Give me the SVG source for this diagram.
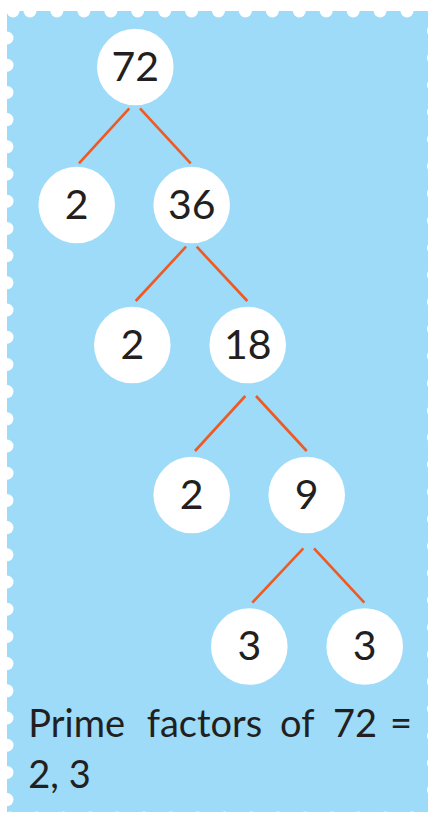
<svg xmlns="http://www.w3.org/2000/svg" width="428" height="813" viewBox="0 0 428 813">
<style>
.bg{fill:#9ddbf8}
.hole{fill:#ffffff}
.node circle{fill:#ffffff}
.node text{font-family:Lato,"Open Sans","Liberation Sans",sans-serif;font-size:41px;fill:#231f20;text-anchor:middle}
.edge{stroke:#ef5a23;stroke-width:2.6;fill:none}
.cap{font-family:Lato,"Open Sans","Liberation Sans",sans-serif;font-size:38px;fill:#231f20}
</style>
<defs>
<circle id="d" r="6.5" class="hole"/>
</defs>
<rect width="428" height="813" fill="#ffffff"/>
<rect class="bg" x="7" y="11" width="421" height="801"/>
<g id="scallops">
<use href="#d" x="13" y="11"/>
<use href="#d" x="30" y="11"/><use href="#d" x="56.9" y="11"/><use href="#d" x="83.9" y="11"/><use href="#d" x="110.8" y="11"/><use href="#d" x="137.7" y="11"/><use href="#d" x="164.7" y="11"/><use href="#d" x="191.6" y="11"/><use href="#d" x="218.5" y="11"/><use href="#d" x="245.4" y="11"/><use href="#d" x="272.4" y="11"/><use href="#d" x="299.3" y="11"/><use href="#d" x="326.2" y="11"/><use href="#d" x="353.2" y="11"/><use href="#d" x="380.1" y="11"/><use href="#d" x="407" y="11"/>
<use href="#d" x="7" y="38"/><use href="#d" x="7" y="65.2"/><use href="#d" x="7" y="92.4"/><use href="#d" x="7" y="119.6"/><use href="#d" x="7" y="146.8"/><use href="#d" x="7" y="174"/><use href="#d" x="7" y="201.2"/><use href="#d" x="7" y="228.4"/><use href="#d" x="7" y="255.6"/><use href="#d" x="7" y="282.8"/><use href="#d" x="7" y="310"/><use href="#d" x="7" y="337.2"/><use href="#d" x="7" y="364.4"/><use href="#d" x="7" y="391.6"/><use href="#d" x="7" y="418.8"/><use href="#d" x="7" y="446"/><use href="#d" x="7" y="473.2"/><use href="#d" x="7" y="500.4"/><use href="#d" x="7" y="527.6"/><use href="#d" x="7" y="554.8"/><use href="#d" x="7" y="582"/><use href="#d" x="7" y="609.2"/><use href="#d" x="7" y="636.4"/><use href="#d" x="7" y="663.6"/><use href="#d" x="7" y="690.8"/><use href="#d" x="7" y="718"/><use href="#d" x="7" y="745.2"/><use href="#d" x="7" y="772.4"/><use href="#d" x="7" y="799.6"/>
<use href="#d" x="433.5" y="30.7"/><use href="#d" x="433.5" y="57.8"/><use href="#d" x="433.5" y="84.9"/><use href="#d" x="433.5" y="112"/><use href="#d" x="433.5" y="139.2"/><use href="#d" x="433.5" y="166.3"/><use href="#d" x="433.5" y="193.4"/><use href="#d" x="433.5" y="220.5"/><use href="#d" x="433.5" y="247.7"/><use href="#d" x="433.5" y="274.8"/><use href="#d" x="433.5" y="301.9"/><use href="#d" x="433.5" y="329"/><use href="#d" x="433.5" y="356.1"/><use href="#d" x="433.5" y="383.3"/><use href="#d" x="433.5" y="410.4"/><use href="#d" x="433.5" y="437.5"/><use href="#d" x="433.5" y="464.6"/><use href="#d" x="433.5" y="491.7"/><use href="#d" x="433.5" y="518.9"/><use href="#d" x="433.5" y="546"/><use href="#d" x="433.5" y="573.1"/><use href="#d" x="433.5" y="600.2"/><use href="#d" x="433.5" y="627.4"/><use href="#d" x="433.5" y="654.5"/><use href="#d" x="433.5" y="681.6"/><use href="#d" x="433.5" y="708.7"/><use href="#d" x="433.5" y="735.8"/><use href="#d" x="433.5" y="763"/><use href="#d" x="433.5" y="790.1"/>
<use href="#d" x="10" y="818"/><use href="#d" x="36.8" y="818"/><use href="#d" x="63.6" y="818"/><use href="#d" x="90.4" y="818"/><use href="#d" x="117.2" y="818"/><use href="#d" x="144" y="818"/><use href="#d" x="170.8" y="818"/><use href="#d" x="197.6" y="818"/><use href="#d" x="224.4" y="818"/><use href="#d" x="251.2" y="818"/><use href="#d" x="278" y="818"/><use href="#d" x="304.8" y="818"/><use href="#d" x="331.6" y="818"/><use href="#d" x="358.4" y="818"/><use href="#d" x="385.2" y="818"/><use href="#d" x="412" y="818"/>
</g>
<g id="connectors">
<line class="edge" x1="129.3" y1="108.3" x2="79" y2="163.3"/>
<line class="edge" x1="140" y1="108.3" x2="190.7" y2="163.3"/>
<line class="edge" x1="186" y1="246.7" x2="135.7" y2="301"/>
<line class="edge" x1="196.7" y1="246.7" x2="247.3" y2="301"/>
<line class="edge" x1="245.3" y1="396" x2="195" y2="451"/>
<line class="edge" x1="256" y1="396" x2="306.7" y2="451"/>
<line class="edge" x1="303.3" y1="548.3" x2="252.3" y2="602.7"/>
<line class="edge" x1="314" y1="548.3" x2="364.3" y2="602.7"/>
</g>
<g id="n72" class="node"><circle cx="135.3" cy="67" r="38.3"/><text x="135.3" y="80.5">72</text></g>
<g id="n2a" class="node"><circle cx="76.7" cy="205" r="38.3"/><text x="76.7" y="218.5">2</text></g>
<g id="n36" class="node"><circle cx="191.7" cy="205" r="38.3"/><text x="191.7" y="218.5">36</text></g>
<g id="n2b" class="node"><circle cx="132.3" cy="345" r="38.3"/><text x="132.3" y="358.5">2</text></g>
<g id="n18" class="node"><circle cx="247.7" cy="345" r="38.3"/><text x="247.7" y="358.5">18</text></g>
<g id="n2c" class="node"><circle cx="191.7" cy="495" r="38.3"/><text x="191.7" y="508.5">2</text></g>
<g id="n9" class="node"><circle cx="306.7" cy="495" r="38.3"/><text x="306.7" y="508.5">9</text></g>
<g id="n3a" class="node"><circle cx="249.3" cy="646.5" r="38.3"/><text x="249.3" y="660">3</text></g>
<g id="n3b" class="node"><circle cx="364.7" cy="646.5" r="38.3"/><text x="364.7" y="660">3</text></g>
<g id="caption">
<text class="cap" y="736.7"><tspan x="28.3">Prime</tspan><tspan x="146.7">factors</tspan><tspan x="280">of</tspan><tspan x="333">72</tspan><tspan x="390">=</tspan></text>
<text class="cap" x="28.3" y="788.3">2, 3</text>
</g>
</svg>
